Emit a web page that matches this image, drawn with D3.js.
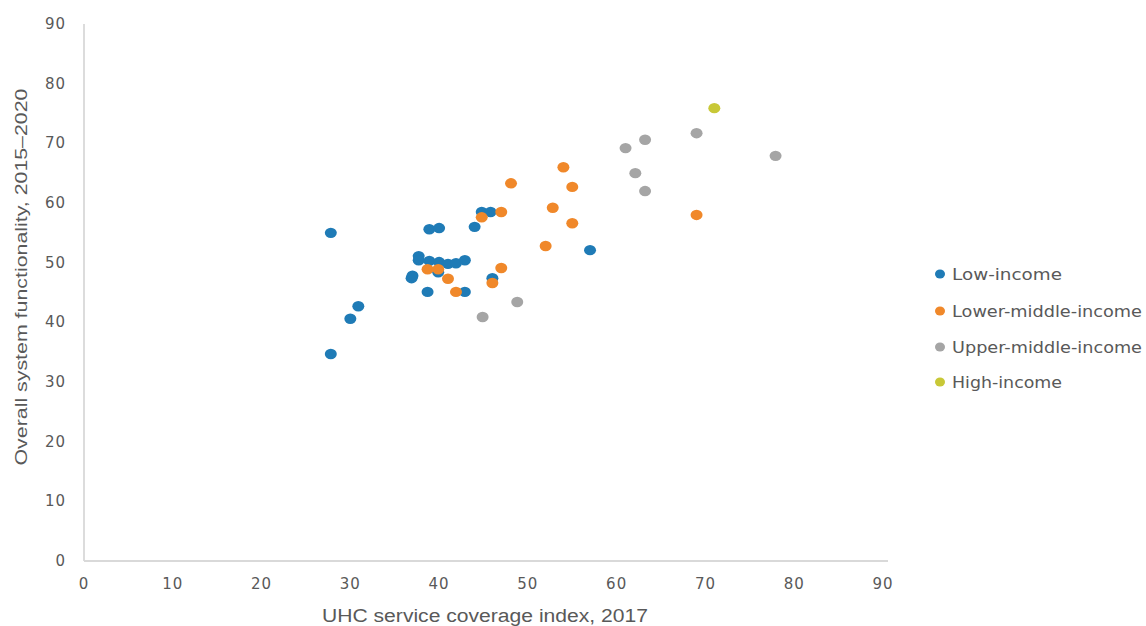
<!DOCTYPE html>
<html>
<head>
<meta charset="utf-8">
<script src="https://cdn.jsdelivr.net/npm/d3@7"></script>
<style>
  html, body { margin: 0; padding: 0; background: #fff; }
  svg { display: block; }
</style>
</head>
<body>
<svg id="chart" width="1146" height="626"></svg>
<script>
// ---- data ----
const seriesNames = ["Low-income", "Lower-middle-income", "Upper-middle-income", "High-income"];
const seriesColors = ["#1f7bb6", "#f0882a", "#a5a5a5", "#c8c837"];

const lowIncome = [
  [27.8, 55.0], [27.8, 34.7], [30.0, 40.6], [30.9, 42.7],
  [36.9, 47.4], [37.0, 47.8], [37.7, 51.1], [37.7, 50.4],
  [38.9, 50.3], [40.0, 50.1], [41.0, 49.8], [41.9, 49.9],
  [42.9, 50.4], [39.9, 48.4], [38.7, 45.1], [42.9, 45.1],
  [46.0, 47.4], [38.9, 55.6], [40.0, 55.8], [44.0, 56.0],
  [44.8, 58.5], [45.8, 58.5], [57.0, 52.1]
];
const lowerMiddleIncome = [
  [38.7, 48.9], [39.9, 48.9], [41.0, 47.3], [41.9, 45.1],
  [46.0, 46.6], [47.0, 49.1], [44.8, 57.6], [47.0, 58.5],
  [48.1, 63.3], [52.0, 52.8], [52.8, 59.2], [54.0, 66.0],
  [55.0, 62.7], [55.0, 56.6], [69.0, 58.0]
];
const upperMiddleIncome = [
  [44.9, 40.9], [48.8, 43.4], [61.0, 69.2], [63.2, 70.6],
  [62.1, 65.0], [63.2, 62.0], [69.0, 71.7], [77.9, 67.9]
];
const highIncome = [
  [71.0, 75.9]
];
const xTicks = [0, 10, 20, 30, 40, 50, 60, 70, 80, 90];
const yTicks = [0, 10, 20, 30, 40, 50, 60, 70, 80, 90];
const xTitle = "UHC service coverage index, 2017";
const yTitle = "Overall system functionality, 2015\u20132020";

// ---- layout ----
const svg = d3.select("#chart");
const mLeft = 84, mRight = 883, mTop = 24, mBottom = 561;
const x = d3.scaleLinear().domain([0, 90]).range([mLeft, mRight]);
const y = d3.scaleLinear().domain([0, 90]).range([mBottom, mTop]);
const textColor = "#595959";
const tickFont = "DejaVu Sans, sans-serif";

// axes lines
svg.append("line").attr("x1", mLeft).attr("x2", 888).attr("y1", mBottom).attr("y2", mBottom)
  .attr("stroke", "#d9d9d9").attr("stroke-width", 1.8);
svg.append("line").attr("x1", mLeft).attr("x2", mLeft).attr("y1", mTop).attr("y2", mBottom)
  .attr("stroke", "#d9d9d9").attr("stroke-width", 1.8);

// tick labels
svg.append("g").selectAll("text").data(xTicks).join("text")
  .attr("x", d => x(d)).attr("y", 589)
  .attr("text-anchor", "middle")
  .attr("font-family", tickFont).attr("font-size", 15)
  .attr("letter-spacing", 1)
  .attr("fill", textColor)
  .text(d => d);

svg.append("g").selectAll("text").data(yTicks).join("text")
  .attr("x", 66).attr("y", d => y(d) + 5)
  .attr("text-anchor", "end")
  .attr("font-family", tickFont).attr("font-size", 15)
  .attr("letter-spacing", 1)
  .attr("fill", textColor)
  .text(d => d);

// axis titles
svg.append("text")
  .attr("x", 485).attr("y", 622)
  .attr("text-anchor", "middle")
  .attr("font-family", "Liberation Sans, Arial, sans-serif").attr("font-size", 18)
  .attr("textLength", 326).attr("lengthAdjust", "spacingAndGlyphs")
  .attr("fill", textColor)
  .text(xTitle);

svg.append("text")
  .attr("transform", "translate(27,277) rotate(-90)")
  .attr("text-anchor", "middle")
  .attr("font-family", "Liberation Sans, Arial, sans-serif").attr("font-size", 17)
  .attr("textLength", 377).attr("lengthAdjust", "spacingAndGlyphs")
  .attr("fill", textColor)
  .text(yTitle);

// points
const allSeries = [lowIncome, lowerMiddleIncome, upperMiddleIncome, highIncome];
allSeries.forEach((pts, i) => {
  svg.append("g").selectAll("ellipse").data(pts).join("ellipse")
    .attr("cx", d => x(d[0])).attr("cy", d => y(d[1]))
    .attr("rx", 6).attr("ry", 5.2)
    .attr("fill", seriesColors[i]);
});

// legend
const legendY = [274, 311, 347, 382];
const legendW = [110, 190, 190, 110];
const lg = svg.append("g");
seriesNames.forEach((name, i) => {
  lg.append("ellipse").attr("cx", 940).attr("cy", legendY[i]).attr("rx", 5).attr("ry", 4.5)
    .attr("fill", seriesColors[i]);
  lg.append("text").attr("x", 952).attr("y", legendY[i] + 6)
    .attr("font-family", tickFont).attr("font-size", 15)
    .attr("textLength", legendW[i]).attr("lengthAdjust", "spacingAndGlyphs")
    .attr("fill", textColor)
    .text(name);
});
</script>
</body>
</html>
